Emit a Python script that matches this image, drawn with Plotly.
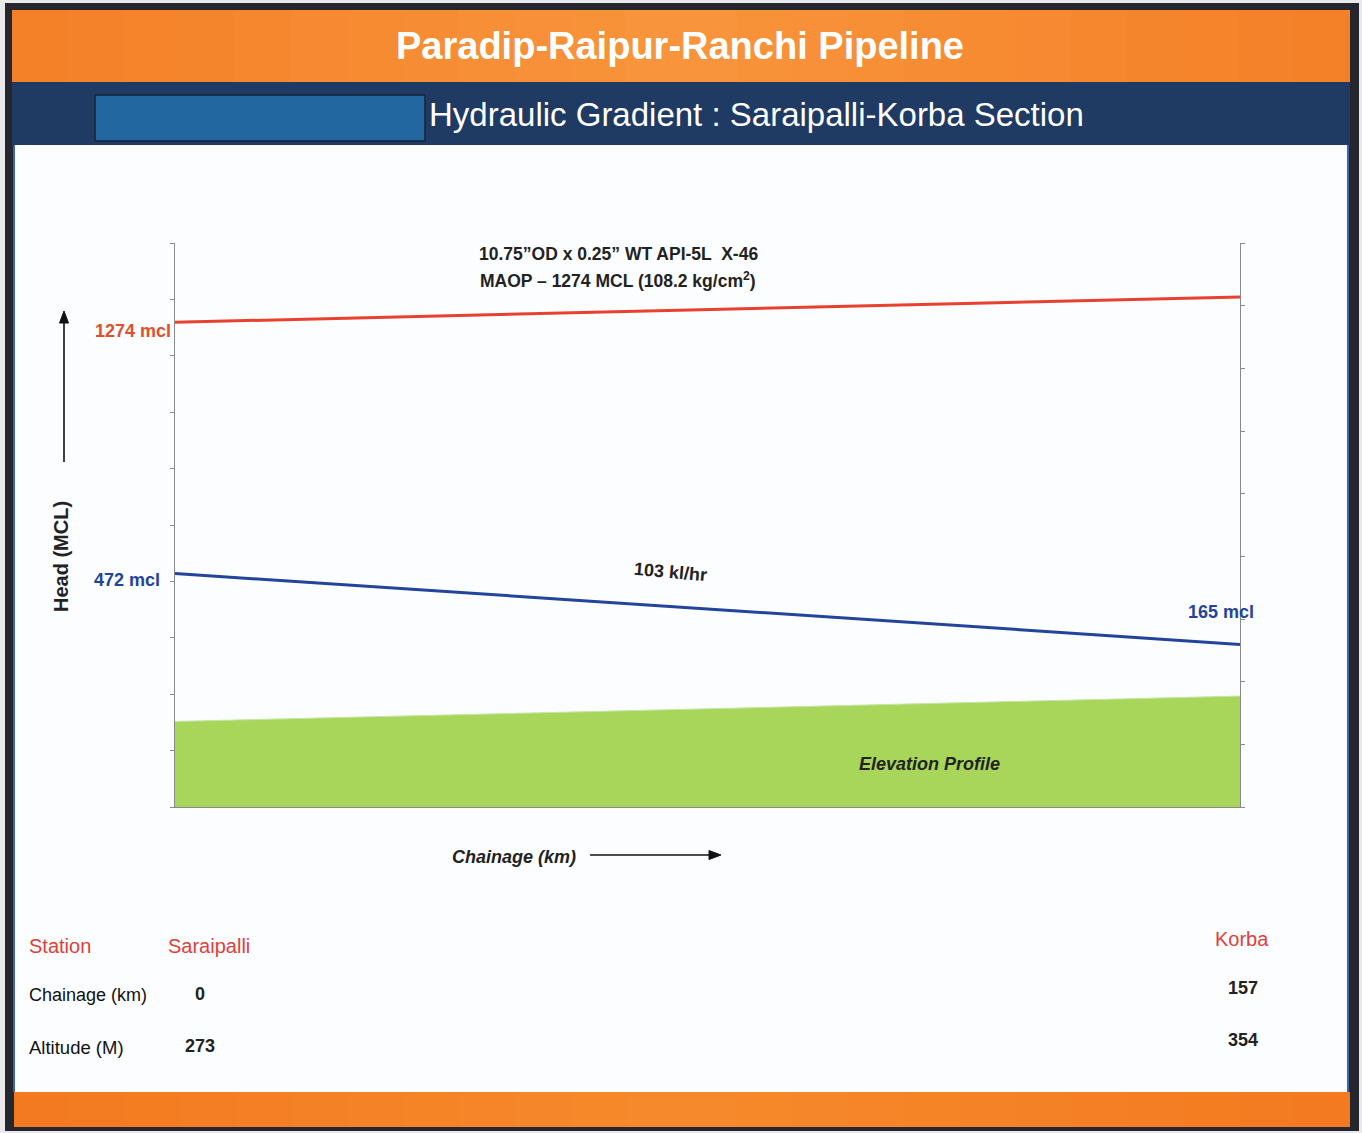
import plotly.graph_objects as go

# ---------------- data ----------------
stations = ["Saraipalli", "Korba"]
chainage_km = [0, 157]
altitude_m = [273, 354]
maop_head_mcl = [1274, 1274]
hydraulic_head_mcl = [472, 165]
flow_label = "103 kl/hr"
pipe_spec = "10.75\u201dOD x 0.25\u201d WT API-5L  X-46"
maop_spec = "MAOP \u2013 1274 MCL (108.2 kg/cm<sup>2</sup>)"

W, H = 1362, 1133
def px(x):
    return x / W
def py(y):
    return 1 - y / H

maop_line = [a + h for a, h in zip(altitude_m, maop_head_mcl)]
hyd_line = [a + h for a, h in zip(altitude_m, hydraulic_head_mcl)]

SANS = "Liberation Sans, Arial, sans-serif"

fig = go.Figure()

fig.add_trace(go.Scatter(
    x=chainage_km, y=altitude_m, mode="lines", fill="tozeroy",
    fillcolor="#a8d65a", line=dict(color="#c4e6a4", width=1),
    hoverinfo="skip", showlegend=False))
fig.add_trace(go.Scatter(
    x=chainage_km, y=maop_line, mode="lines",
    line=dict(color="#e8412f", width=3), showlegend=False))
fig.add_trace(go.Scatter(
    x=chainage_km, y=hyd_line, mode="lines",
    line=dict(color="#23449a", width=3), showlegend=False))
# invisible trace to carry the right-hand axis
fig.add_trace(go.Scatter(
    x=chainage_km, y=altitude_m, yaxis="y2", mode="lines",
    line=dict(width=0, color="rgba(0,0,0,0)"), hoverinfo="skip", showlegend=False))

shapes = []
def rect(x0, y0, x1, y1, fill, line=None, lw=0, layer="below"):
    shapes.append(dict(type="rect", xref="paper", yref="paper",
                       x0=px(x0), x1=px(x1), y0=py(y1), y1=py(y0),
                       fillcolor=fill, line=dict(color=line or fill, width=lw),
                       layer=layer))

def mix(c1, c2, t):
    a = [int(c1[i:i + 2], 16) for i in (1, 3, 5)]
    b = [int(c2[i:i + 2], 16) for i in (1, 3, 5)]
    return "#" + "".join(f"{round(a[k] + (b[k] - a[k]) * t):02x}" for k in range(3))

def orange_band(x0, y0, x1, y1, edge, centre, n=24):
    step = (x1 - x0) / n
    for i in range(n):
        c = (i + 0.5) / n
        t = 1 - abs(c - 0.5) * 2
        rect(x0 + i * step, y0, min(x1, x0 + (i + 1) * step + 1), y1, mix(edge, centre, t))

rect(0, 0, W, H, "#e9e9ec")
rect(5, 3, 1359, 1131, "#26262f")
orange_band(12, 10, 1350, 82, "#f47f27", "#f8953c")
rect(12, 82, 1350, 145, "#1f3a63")
rect(95, 95, 425, 141, "#22679f", "#16253a", 1.5)
rect(13, 145, 1349, 1092, "#3c63b5")
rect(15, 145, 1347, 1092, "#fbfdff")
orange_band(14, 1092, 1350, 1127, "#f3791f", "#f68a2c")

# arrows drawn as line + head
def arrow(x0, y0, x1, y1, head):
    shapes.append(dict(type="line", xref="paper", yref="paper",
                       x0=px(x0), y0=py(y0), x1=px(x1), y1=py(y1),
                       line=dict(color="#111111", width=1.6), layer="above"))
    path = "M " + " L ".join(f"{px(a)},{py(b)}" for a, b in head) + " Z"
    shapes.append(dict(type="path", xref="paper", yref="paper", path=path,
                       fillcolor="#111111", line=dict(color="#111111", width=1),
                       layer="above"))

arrow(64, 462, 64, 320, [(64, 311), (59.5, 323), (68.5, 323)])
arrow(590, 855, 710, 855, [(721, 855), (709, 850.5), (709, 859.5)])

annotations = []
def text(x, y, s, size, color="#222222", bold=True, italic=False, xanchor="center",
         angle=0):
    t = s
    if bold:
        t = "<b>" + t + "</b>"
    if italic:
        t = "<i>" + t + "</i>"
    annotations.append(dict(x=px(x), y=py(y), xref="paper", yref="paper", text=t,
                            showarrow=False, xanchor=xanchor, yanchor="middle",
                            textangle=angle,
                            font=dict(size=size, color=color, family=SANS)))

text(680, 46, "Paradip-Raipur-Ranchi Pipeline", 38, "#ffffff")
text(427, 114, "Hydraulic Gradient : Saraipalli-Korba Section", 33, "#ffffff",
     bold=False, xanchor="left")

text(618, 254, pipe_spec, 17.5, "#222222")
text(618, 280, maop_spec, 17.5, "#222222")

text(173, 331, f"{maop_head_mcl[0]} mcl", 18, "#e0502e", xanchor="right")
text(162, 580, f"{hydraulic_head_mcl[0]} mcl", 18, "#23449a", xanchor="right")
text(1221, 612, f"{hydraulic_head_mcl[1]} mcl", 18, "#23449a")
text(670, 572, flow_label, 18, "#222222", angle=5)
text(929, 764, "Elevation Profile", 18, "#222222", italic=True)
text(514, 857, "Chainage (km)", 18, "#222222", italic=True)
text(61, 557, "Head (MCL)", 20, "#222222", angle=-90)

# table
text(27, 946, "Station", 20, "#e0403a", bold=False, xanchor="left")
text(209, 946, stations[0], 20, "#e0403a", bold=False)
text(1242, 939, stations[1], 20, "#e0403a", bold=False)
text(27, 995, "Chainage (km)", 18, "#111111", xanchor="left", bold=False)
text(200, 994, str(chainage_km[0]), 18, "#222222")
text(1243, 988, str(chainage_km[1]), 18, "#222222")
text(27, 1047, "Altitude (M)", 18.5, "#111111", xanchor="left", bold=False)
text(200, 1046, str(altitude_m[0]), 18, "#222222")
text(1243, 1040, str(altitude_m[1]), 18, "#222222")

fig.update_layout(
    width=W, height=H,
    margin=dict(l=0, r=0, t=0, b=0, pad=0),
    paper_bgcolor="#ffffff",
    plot_bgcolor="rgba(0,0,0,0)",
    shapes=shapes,
    annotations=annotations,
    showlegend=False,
    xaxis=dict(domain=[px(175), px(1240)], range=[0, 157], showgrid=False,
               zeroline=False, showline=True, linecolor="#8a8a8a", linewidth=1,
               ticks="", showticklabels=False, fixedrange=True),
    yaxis=dict(domain=[py(807), py(243)], range=[0, 1800], dtick=180,
               showgrid=False, zeroline=False, showline=True, linecolor="#8a8a8a",
               linewidth=1, ticks="outside", ticklen=4, tickcolor="#8a8a8a",
               showticklabels=False, fixedrange=True),
    yaxis2=dict(overlaying="y", side="right", anchor="x", range=[0, 1800], dtick=200,
                showgrid=False, zeroline=False, showline=True, linecolor="#8a8a8a",
                linewidth=1, ticks="outside", ticklen=4, tickcolor="#8a8a8a",
                showticklabels=False, fixedrange=True),
)

fig.write_html("out.html", config={"displayModeBar": False},
               post_script="document.body.style.margin='0';")
